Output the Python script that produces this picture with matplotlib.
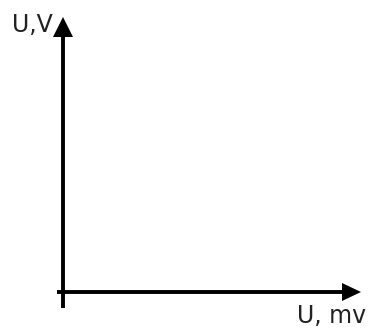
import matplotlib.pyplot as plt

# axis labels of the sketch
y_label = "U,V"
x_label = "U, mv"

fig = plt.figure(figsize=(3.74, 3.32), dpi=100)
ax = fig.add_axes([0, 0, 1, 1])
ax.set_xlim(0, 374)
ax.set_ylim(332, 0)
ax.axis("off")

# origin in pixel space
ox, oy = 63, 292

# vertical axis
ax.plot([ox, ox], [308, 34], color="black", lw=2.8, solid_capstyle="butt")
ax.fill([ox, ox - 10, ox + 10], [17, 37, 37], color="black", lw=0)

# horizontal axis
ax.plot([57, 344], [oy, oy], color="black", lw=2.8, solid_capstyle="butt")
ax.fill([361, 342, 342], [oy, oy - 9, oy + 9], color="black", lw=0)

ax.text(12, 32, y_label, fontsize=17, family="DejaVu Sans", color="#222222",
        ha="left", va="baseline")
ax.text(297, 323, x_label, fontsize=17, family="DejaVu Sans", color="#222222",
        ha="left", va="baseline")

fig.savefig("out.png", dpi=100)
